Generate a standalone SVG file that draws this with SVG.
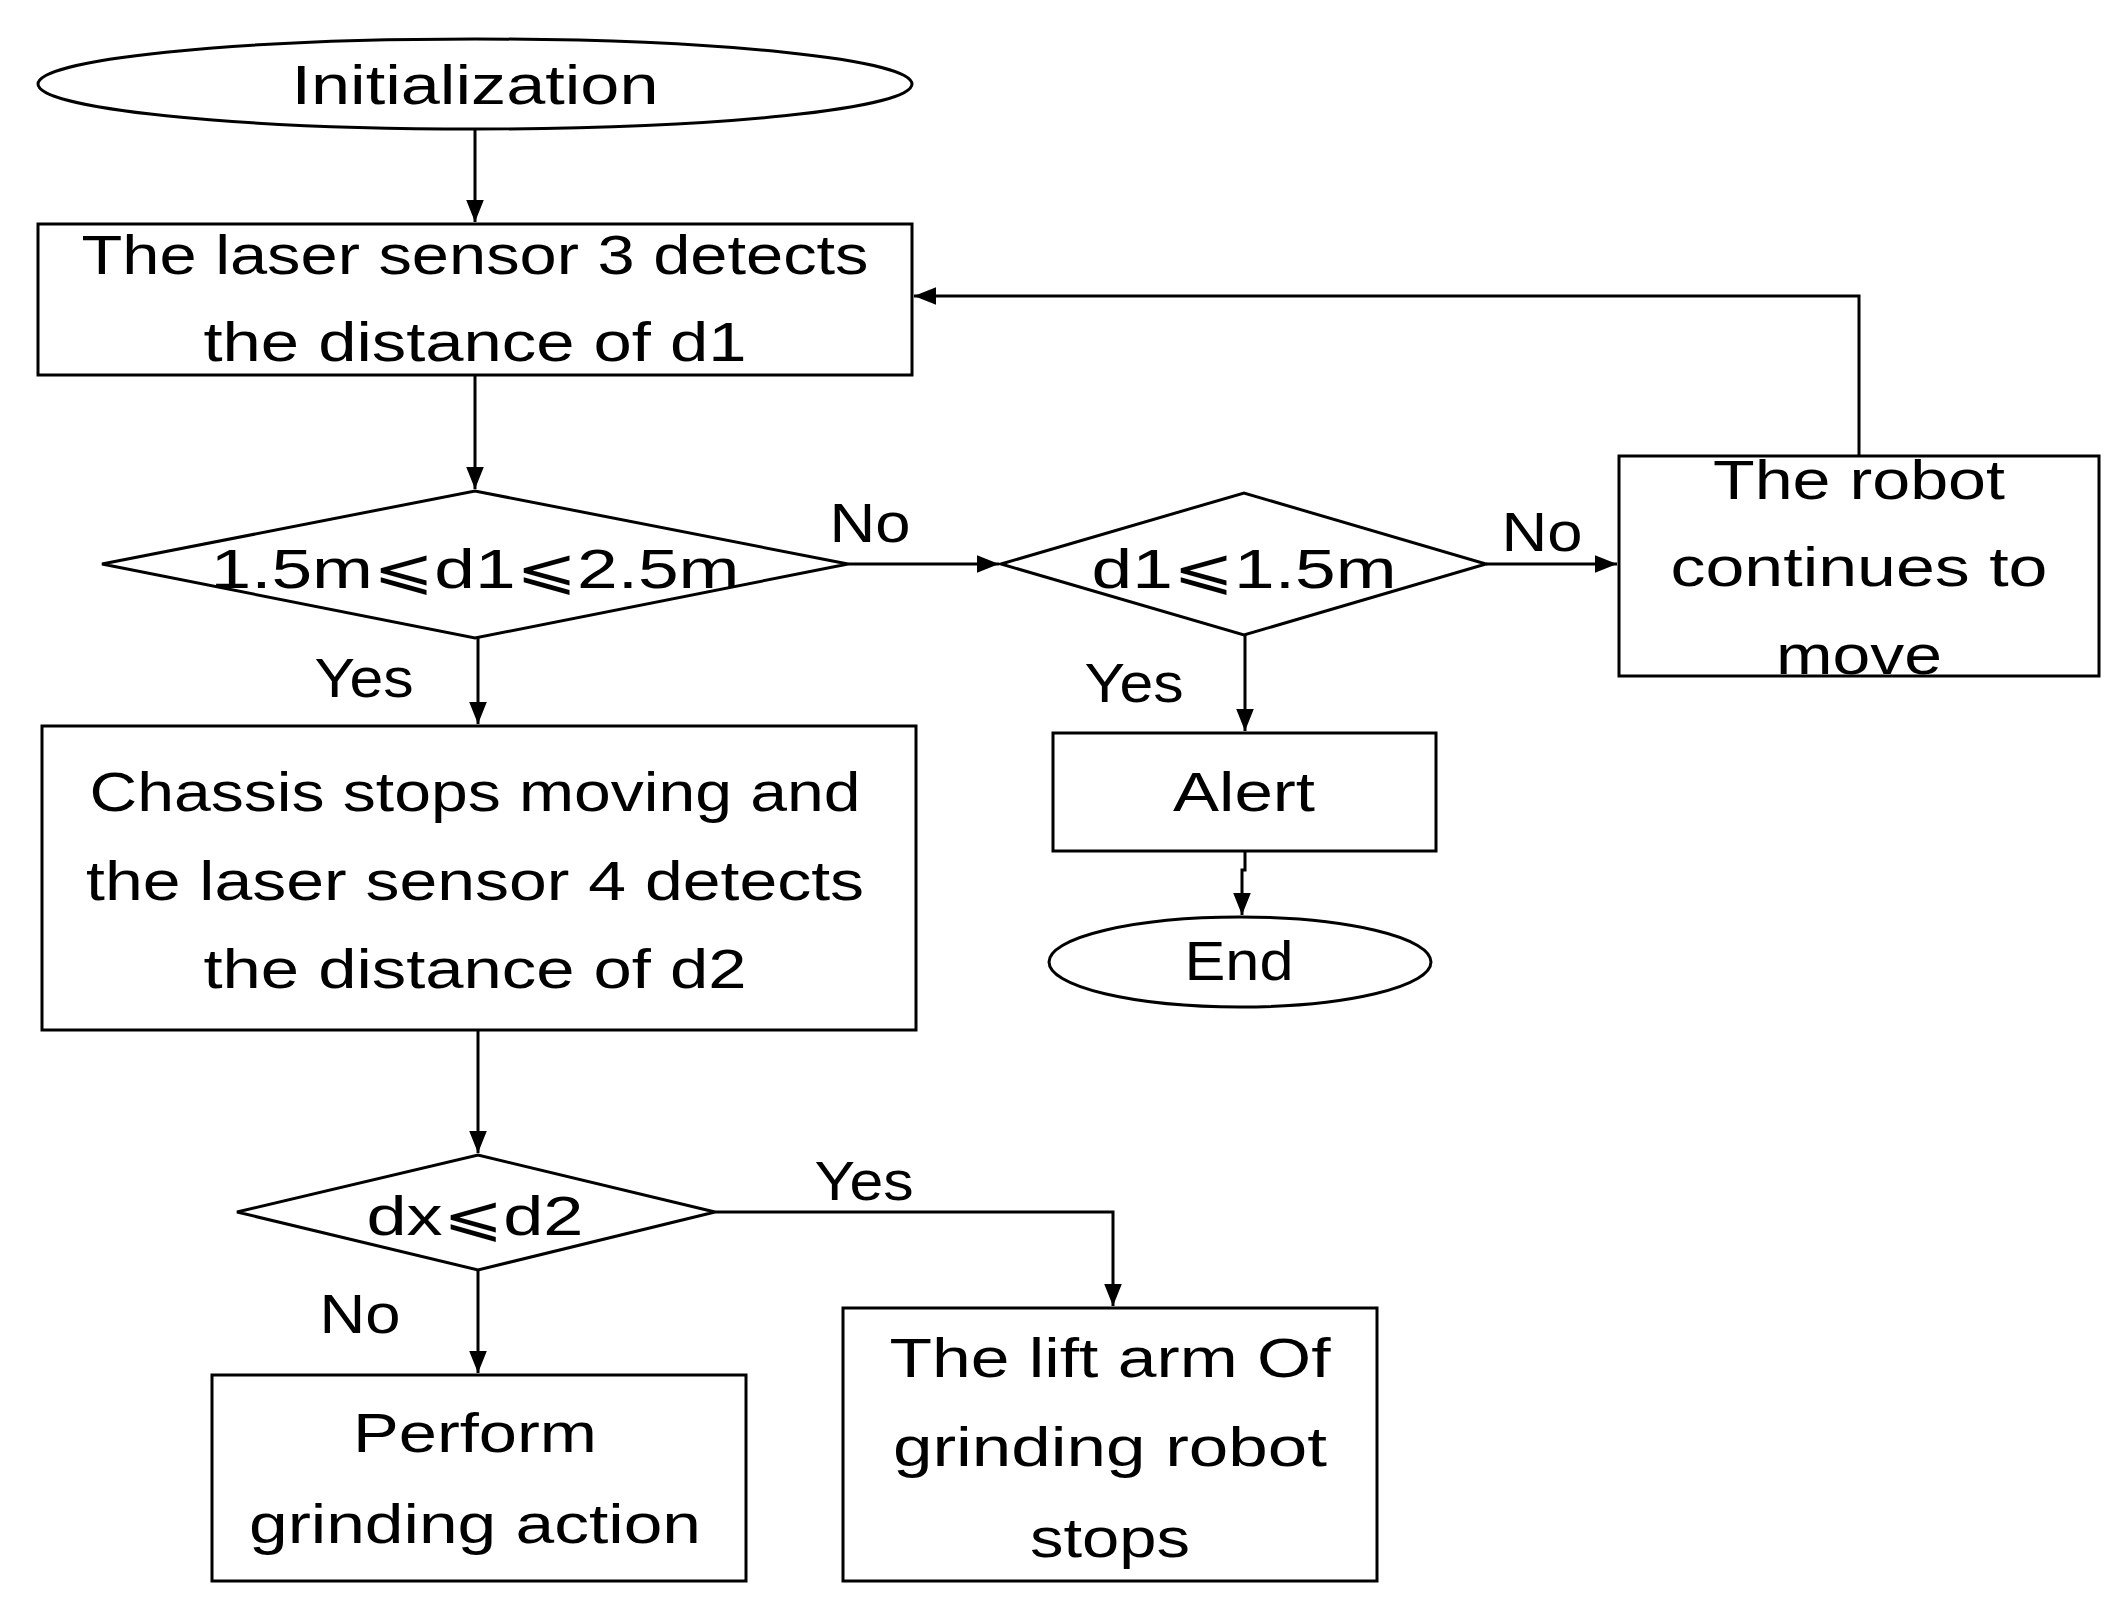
<svg xmlns="http://www.w3.org/2000/svg" width="2121" height="1611" viewBox="0 0 2121 1611">
<style>
.s{fill:#fff;stroke:#000;stroke-width:3}
.c{fill:none;stroke:#000;stroke-width:3;marker-end:url(#a)}
text{font-family:"Liberation Sans",Arial,sans-serif;font-size:56px;text-anchor:middle;fill:#000}
</style>
<defs><marker id="a" viewBox="0 0 10 10" refX="10" refY="5" markerWidth="22" markerHeight="22" markerUnits="userSpaceOnUse" orient="auto"><path d="M0,1L10,5L0,9z"/></marker></defs>
<rect width="2121" height="1611" fill="#fff"/>
<g id="connectors">
<path class="c" d="M475,129V222"/>
<path class="c" d="M475,375V489"/>
<path class="c" d="M848,564H999"/>
<path class="c" d="M1486,564H1617"/>
<path class="c" d="M478,638V724"/>
<path class="c" d="M1245,635V731"/>
<path class="c" d="M1245,851V870H1242V915"/>
<path class="c" d="M478,1030V1153"/>
<path class="c" d="M478,1270V1373"/>
<path class="c" d="M715,1212H1113V1306"/>
<path class="c" d="M1859,456V296H914"/>
</g>
<g id="init"><ellipse class="s" cx="475" cy="84" rx="437" ry="45"/><text x="475" y="104" textLength="367" lengthAdjust="spacingAndGlyphs">Initialization</text></g>
<g id="detect1"><rect class="s" x="38" y="224" width="874" height="151"/><text x="475" y="274" textLength="787" lengthAdjust="spacingAndGlyphs">The laser sensor 3 detects</text><text x="475" y="361" textLength="543" lengthAdjust="spacingAndGlyphs">the distance of d1</text></g>
<g id="dec1"><polygon class="s" points="102,564 475,491 848,564 475,638"/><text x="475" y="588" textLength="529" lengthAdjust="spacingAndGlyphs">1.5m⩽d1⩽2.5m</text></g>
<g id="dec2"><polygon class="s" points="1001,564 1244,493 1486,564 1244,635"/><text x="1244" y="588" textLength="305" lengthAdjust="spacingAndGlyphs">d1⩽1.5m</text></g>
<g id="robot"><rect class="s" x="1619" y="456" width="480" height="220"/><text x="1859" y="499" textLength="292" lengthAdjust="spacingAndGlyphs">The robot</text><text x="1859" y="586" textLength="377" lengthAdjust="spacingAndGlyphs">continues to</text><text x="1859" y="674" textLength="166" lengthAdjust="spacingAndGlyphs">move</text></g>
<g id="chassis"><rect class="s" x="42" y="726" width="874" height="304"/><text x="475" y="811" textLength="771" lengthAdjust="spacingAndGlyphs">Chassis stops moving and</text><text x="475" y="900" textLength="778" lengthAdjust="spacingAndGlyphs">the laser sensor 4 detects</text><text x="475" y="988" textLength="543" lengthAdjust="spacingAndGlyphs">the distance of d2</text></g>
<g id="alert"><rect class="s" x="1053" y="733" width="383" height="118"/><text x="1244" y="811" textLength="142" lengthAdjust="spacingAndGlyphs">Alert</text></g>
<g id="end"><ellipse class="s" cx="1240" cy="962" rx="191" ry="45"/><text x="1239" y="980" textLength="109" lengthAdjust="spacingAndGlyphs">End</text></g>
<g id="dec3"><polygon class="s" points="237,1212 478,1155 715,1212 478,1270"/><text x="475" y="1235" textLength="217" lengthAdjust="spacingAndGlyphs">dx⩽d2</text></g>
<g id="perform"><rect class="s" x="212" y="1375" width="534" height="206"/><text x="475" y="1452" textLength="244" lengthAdjust="spacingAndGlyphs">Perform</text><text x="475" y="1543" textLength="452" lengthAdjust="spacingAndGlyphs">grinding action</text></g>
<g id="lift"><rect class="s" x="843" y="1308" width="534" height="273"/><text x="1110" y="1377" textLength="441" lengthAdjust="spacingAndGlyphs">The lift arm Of</text><text x="1110" y="1466" textLength="434" lengthAdjust="spacingAndGlyphs">grinding robot</text><text x="1110" y="1557" textLength="160" lengthAdjust="spacingAndGlyphs">stops</text></g>
<g id="labels">
<text x="870" y="542" textLength="81" lengthAdjust="spacingAndGlyphs">No</text>
<text x="1542" y="551" textLength="81" lengthAdjust="spacingAndGlyphs">No</text>
<text x="364" y="697" textLength="99" lengthAdjust="spacingAndGlyphs">Yes</text>
<text x="1134" y="702" textLength="99" lengthAdjust="spacingAndGlyphs">Yes</text>
<text x="864" y="1200" textLength="99" lengthAdjust="spacingAndGlyphs">Yes</text>
<text x="360" y="1333" textLength="81" lengthAdjust="spacingAndGlyphs">No</text>
</g>
</svg>
